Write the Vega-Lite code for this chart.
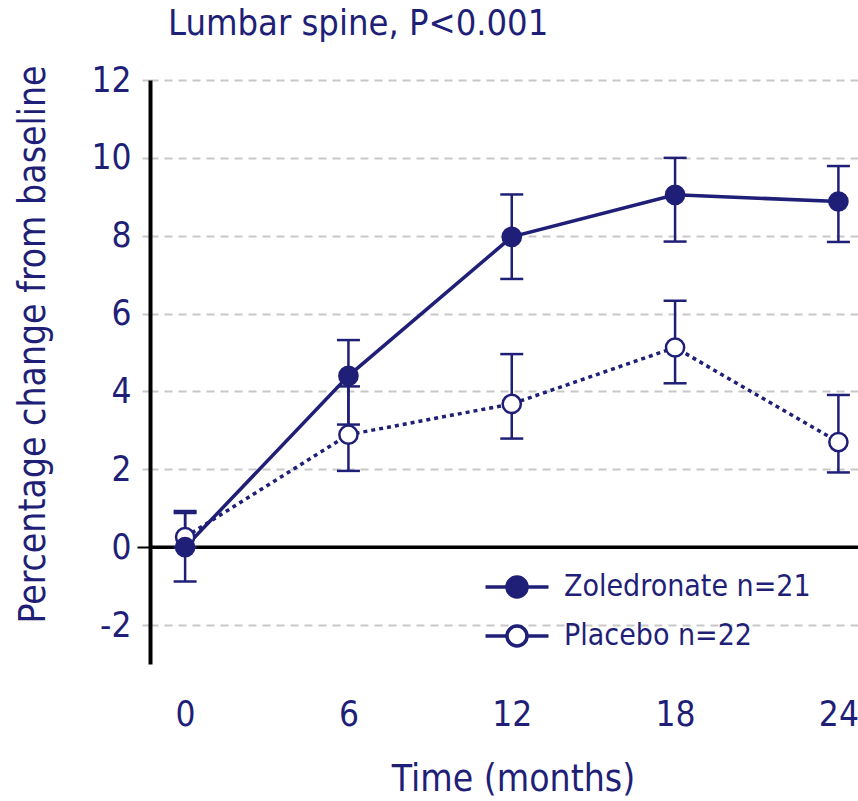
{
  "$schema": "https://vega.github.io/schema/vega-lite/v6.json",
  "autosize": "none",
  "width": 708,
  "height": 584,
  "padding": {"left": 150, "top": 80, "right": 0, "bottom": 137},
  "background": "white",
  "title": {
    "text": "Lumbar spine, P<0.001",
    "anchor": "start",
    "frame": "group",
    "dx": 18,
    "offset": 20,
    "font": "DejaVu Sans Condensed, DejaVu Sans",
    "fontSize": 36,
    "fontWeight": "normal",
    "color": "#1f1f78"
  },
  "config": {
    "view": {"stroke": null},
    "font": "DejaVu Sans Condensed, DejaVu Sans"
  },
  "data": {
    "values": [
      {"group": "Placebo n=22", "month": 0, "value": 0.26, "lower": 0.0, "upper": 0.93},
      {"group": "Placebo n=22", "month": 6, "value": 2.89, "lower": 1.96, "upper": 4.13},
      {"group": "Placebo n=22", "month": 12, "value": 3.68, "lower": 2.79, "upper": 4.96},
      {"group": "Placebo n=22", "month": 18, "value": 5.13, "lower": 4.21, "upper": 6.33},
      {"group": "Placebo n=22", "month": 24, "value": 2.7, "lower": 1.92, "upper": 3.91},
      {"group": "Zoledronate n=21", "month": 0, "value": 0.0, "lower": -0.88, "upper": 0.88},
      {"group": "Zoledronate n=21", "month": 6, "value": 4.4, "lower": 3.15, "upper": 5.32},
      {"group": "Zoledronate n=21", "month": 12, "value": 7.97, "lower": 6.89, "upper": 9.06},
      {"group": "Zoledronate n=21", "month": 18, "value": 9.05, "lower": 7.85, "upper": 10.0},
      {"group": "Zoledronate n=21", "month": 24, "value": 8.88, "lower": 7.84, "upper": 9.79}
    ]
  },
  "encoding": {
    "x": {
      "field": "month",
      "type": "quantitative",
      "scale": {"domain": [-1.29, 24.72], "nice": false, "zero": false},
      "axis": {
        "values": [0, 6, 12, 18, 24],
        "domain": false,
        "ticks": false,
        "grid": false,
        "labelFontSize": 35,
        "labelColor": "#1f1f78",
        "labelPadding": 33,
        "labelFont": "DejaVu Sans Condensed, DejaVu Sans",
        "title": "Time (months)",
        "titleFontSize": 37,
        "titleFontWeight": "normal",
        "titleColor": "#1f1f78",
        "titlePadding": 29,
        "titleX": 363,
        "titleFont": "DejaVu Sans Condensed, DejaVu Sans"
      }
    }
  },
  "layer": [
    {
      "mark": {"type": "rule", "color": "black", "strokeWidth": 3.5},
      "data": {"values": [{"zero": 0}]},
      "encoding": {
        "x": null,
        "y": {"field": "zero", "type": "quantitative"}
      }
    },
    {
      "transform": [{"filter": "datum.group === 'Zoledronate n=21'"}],
      "mark": {"type": "line", "color": "#1f1f78", "strokeWidth": 3.5},
      "encoding": {
        "y": {
          "field": "value",
          "type": "quantitative",
          "scale": {"domain": [-3, 12], "nice": false, "zero": false},
          "axis": {
            "values": [-2, 0, 2, 4, 6, 8, 10, 12],
            "labelExpr": "datum.value < 0 ? '-' + abs(datum.value) : '' + datum.value",
            "domainColor": "black",
            "domainWidth": 4,
            "tickSize": 13,
            "tickWidth": 2,
            "tickColor": {"condition": {"test": "datum.value === 0", "value": "black"}, "value": "#c8c8c8"},
            "tickDash": {"condition": {"test": "datum.value === 0", "value": []}, "value": [8, 6]},
            "grid": true,
            "gridColor": "#c8c8c8",
            "gridDash": [8, 6],
            "gridWidth": 2,
            "labelFontSize": 35,
            "labelColor": "#1f1f78",
            "labelPadding": 6,
            "labelFont": "DejaVu Sans Condensed, DejaVu Sans",
            "title": "Percentage change from baseline",
            "titleFontSize": 37,
            "titleFontWeight": "normal",
            "titleColor": "#1f1f78",
            "titleAngle": -90,
            "titleAlign": "center",
            "titleBaseline": "middle",
            "titleX": -117,
            "titleY": 264,
            "titleFont": "DejaVu Sans Condensed, DejaVu Sans"
          }
        }
      }
    },
    {
      "transform": [{"filter": "datum.group === 'Placebo n=22'"}],
      "mark": {"type": "line", "color": "#1f1f78", "strokeWidth": 3.5, "strokeDash": [4, 4]},
      "encoding": {
        "y": {"field": "value", "type": "quantitative"}
      }
    },
    {
      "mark": {"type": "rule", "color": "#1f1f78", "strokeWidth": 2.5},
      "encoding": {
        "y": {"field": "lower", "type": "quantitative"},
        "y2": {"field": "upper"}
      }
    },
    {
      "mark": {"type": "tick", "orient": "horizontal", "color": "#1f1f78", "thickness": 2.5, "size": 23, "opacity": 1},
      "encoding": {
        "y": {"field": "lower", "type": "quantitative"}
      }
    },
    {
      "mark": {"type": "tick", "orient": "horizontal", "color": "#1f1f78", "thickness": 2.5, "size": 23, "opacity": 1},
      "encoding": {
        "y": {"field": "upper", "type": "quantitative"}
      }
    },
    {
      "mark": {"type": "point", "shape": "circle", "size": 330, "stroke": "#1f1f78", "strokeWidth": 2.5, "filled": true, "opacity": 1},
      "encoding": {
        "y": {"field": "value", "type": "quantitative"},
        "fill": {
          "field": "group",
          "type": "nominal",
          "scale": {"domain": ["Zoledronate n=21", "Placebo n=22"], "range": ["#1f1f78", "white"]},
          "legend": {
            "title": null,
            "orient": "none",
            "legendX": 352,
            "legendY": 492,
            "padding": 0,
            "symbolType": "M-3.15,0L-1,0M1,0L3.15,0M1,0A1,1,0,1,1,-1,0A1,1,0,1,1,1,0Z",
            "symbolSize": 400,
            "symbolStrokeColor": "#1f1f78",
            "symbolStrokeWidth": 3.5,
            "symbolOpacity": 1,
            "labelOffset": 32,
            "labelFontSize": 30,
            "labelColor": "#1f1f78",
            "labelFont": "DejaVu Sans Condensed, DejaVu Sans",
            "labelLimit": 400,
            "rowPadding": 15
          }
        }
      }
    }
  ]
}
